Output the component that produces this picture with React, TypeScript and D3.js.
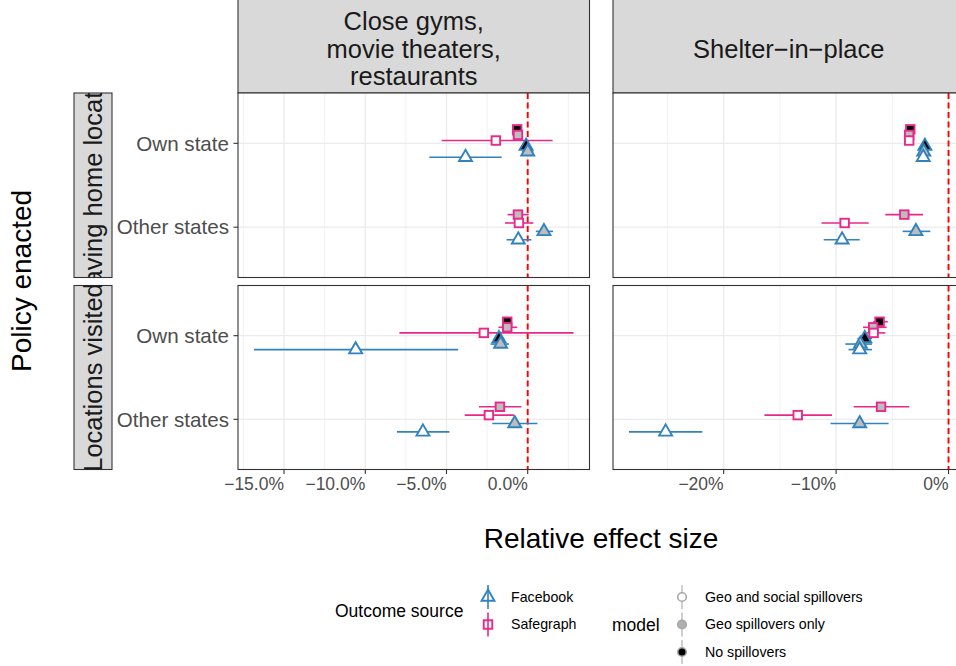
import React from "react";
import * as d3 from "d3";

// ---------- data (values in percent) ----------
const outcomes = ["Leaving home location", "Locations visited"];
const policies = ["Close gyms,\nmovie theaters,\nrestaurants", "Shelter\u2212in\u2212place"];
const categories = ["Own state", "Other states"];
const sources = ["Facebook", "Safegraph"];
const models = ["Geo and social spillovers", "Geo spillovers only", "No spillovers"];

type Row = [string, string, string, number, number, number]; // category, source, model, est, lo, hi

const leavingGyms: Row[] = [
  ["Own state", "Facebook", "No spillovers", -0.1, -0.4, 0.2],
  ["Own state", "Facebook", "Geo spillovers only", 0.0, -0.35, 0.35],
  ["Own state", "Facebook", "Geo and social spillovers", -3.83, -6.06, -1.6],
  ["Own state", "Safegraph", "No spillovers", -0.65, -0.85, -0.45],
  ["Own state", "Safegraph", "Geo spillovers only", -0.6, -0.95, -0.3],
  ["Own state", "Safegraph", "Geo and social spillovers", -1.96, -5.3, 1.53],
  ["Other states", "Facebook", "Geo spillovers only", 1.0, 0.5, 1.56],
  ["Other states", "Facebook", "Geo and social spillovers", -0.58, -1.3, 0.23],
  ["Other states", "Safegraph", "Geo spillovers only", -0.6, -1.24, 0.06],
  ["Other states", "Safegraph", "Geo and social spillovers", -0.54, -1.4, 0.35],
];

const leavingShelter: Row[] = [
  ["Own state", "Facebook", "No spillovers", -2.1, -2.35, -1.85],
  ["Own state", "Facebook", "Geo spillovers only", -2.2, -2.45, -1.95],
  ["Own state", "Facebook", "Geo and social spillovers", -2.25, -2.5, -2.0],
  ["Own state", "Safegraph", "No spillovers", -3.4, -3.65, -3.15],
  ["Own state", "Safegraph", "Geo spillovers only", -3.5, -3.8, -3.2],
  ["Own state", "Safegraph", "Geo and social spillovers", -3.5, -3.75, -3.25],
  ["Other states", "Facebook", "Geo spillovers only", -2.9, -4.08, -1.62],
  ["Other states", "Facebook", "Geo and social spillovers", -9.47, -11.1, -7.9],
  ["Other states", "Safegraph", "Geo spillovers only", -3.93, -5.62, -2.27],
  ["Other states", "Safegraph", "Geo and social spillovers", -9.24, -11.3, -7.1],
];

const visitedGyms: Row[] = [
  ["Own state", "Facebook", "No spillovers", -1.77, -2.1, -1.45],
  ["Own state", "Facebook", "Geo spillovers only", -1.67, -2.29, -1.15],
  ["Own state", "Facebook", "Geo and social spillovers", -10.59, -16.85, -4.28],
  ["Own state", "Safegraph", "No spillovers", -1.26, -1.5, -1.0],
  ["Own state", "Safegraph", "Geo spillovers only", -1.26, -1.8, -0.64],
  ["Own state", "Safegraph", "Geo and social spillovers", -2.7, -7.9, 2.82],
  ["Other states", "Facebook", "Geo spillovers only", -0.8, -2.18, 0.6],
  ["Other states", "Facebook", "Geo and social spillovers", -6.45, -8.05, -4.82],
  ["Other states", "Safegraph", "Geo spillovers only", -1.71, -3.0, -0.39],
  ["Other states", "Safegraph", "Geo and social spillovers", -2.39, -3.88, -0.85],
];

const visitedShelter: Row[] = [
  ["Own state", "Facebook", "No spillovers", -7.45, -8.1, -6.8],
  ["Own state", "Facebook", "Geo spillovers only", -7.84, -9.18, -6.8],
  ["Own state", "Facebook", "Geo and social spillovers", -7.9, -8.9, -6.8],
  ["Own state", "Safegraph", "No spillovers", -6.13, -6.7, -5.4],
  ["Own state", "Safegraph", "Geo spillovers only", -6.7, -7.6, -5.5],
  ["Own state", "Safegraph", "Geo and social spillovers", -6.66, -7.25, -5.62],
  ["Other states", "Facebook", "Geo spillovers only", -7.9, -10.5, -5.33],
  ["Other states", "Facebook", "Geo and social spillovers", -25.16, -28.42, -21.9],
  ["Other states", "Safegraph", "Geo spillovers only", -6.0, -8.44, -3.49],
  ["Other states", "Safegraph", "Geo and social spillovers", -13.41, -16.37, -10.36],
];

const gymTicks = [-15, -10, -5, 0];
const gymTickLabels = ["\u221215.0%", "\u221210.0%", "\u22125.0%", "0.0%"];
const shelterTicks = [-20, -10, 0];
const shelterTickLabels = ["\u221220%", "\u221210%", "0%"];

const panelData: Row[][][] = [
  [leavingGyms, leavingShelter],
  [visitedGyms, visitedShelter],
];

// ---------- styles ----------
const sourceColor: Record<string, string> = { Facebook: "#3182BD", Safegraph: "#E7298A" };
const modelFill: Record<string, string> = {
  "Geo and social spillovers": "#FFFFFF",
  "Geo spillovers only": "#BDBDBD",
  "No spillovers": "#000000",
};
const FONT = "'Liberation Sans', Arial, Helvetica, sans-serif";
const W = 956, H = 666;
const colX: [number, number][] = [[238, 589.5], [613, 964.5]];
const rowY: [number, number][] = [[93, 277.5], [285.5, 469.5]];
const R = 4.8;

function xDomain(col: number): [number, number] {
  const vals: number[] = [0];
  panelData.forEach((row) => row[col].forEach((d) => vals.push(d[4], d[5])));
  const mn = d3.min(vals)!, mx = d3.max(vals)!;
  const e = (mx - mn) * 0.05;
  return [mn - e, mx + e];
}

function minorBreaks(major: number[], dom: [number, number]) {
  const step = major[1] - major[0];
  const ext = [major[0] - step, ...major, major[major.length - 1] + step];
  const out: number[] = [];
  for (let i = 0; i < ext.length - 1; i++) {
    const m = (ext[i] + ext[i + 1]) / 2;
    if (m >= dom[0] && m <= dom[1]) out.push(m);
  }
  return out;
}

function Marker({ source, fill, cx, cy, stroke }: any) {
  if (source === "Facebook") {
    const p = `M${cx},${cy - 1.555 * R}L${cx + 1.347 * R},${cy + 0.778 * R}L${cx - 1.347 * R},${cy + 0.778 * R}Z`;
    return <path d={p} fill={fill} stroke={stroke} strokeWidth={1.9} strokeLinejoin="miter" />;
  }
  const s = 1.772 * R;
  return <rect x={cx - s / 2} y={cy - s / 2} width={s} height={s} fill={fill} stroke={stroke} strokeWidth={1.9} />;
}

export default function App() {
  const xScales = [0, 1].map((c) => d3.scaleLinear().domain(xDomain(c)).range(colX[c]));
  const yScales = [0, 1].map((r) => d3.scaleLinear().domain([0.4, 2.6]).range([rowY[r][1], rowY[r][0]]));
  const catPos: Record<string, number> = { "Own state": 2, "Other states": 1 };
  const ticks = [gymTicks, shelterTicks];
  const tickLabels = [gymTickLabels, shelterTickLabels];

  const panels: any[] = [];
  for (let r = 0; r < 2; r++) {
    for (let c = 0; c < 2; c++) {
      const xs = xScales[c], ys = yScales[r];
      const dom = xs.domain() as [number, number];
      const data = panelData[r][c];
      const placed = data.map((d) => {
        const group = sources.indexOf(d[1]) * 3 + models.indexOf(d[2]);
        return { d, group };
      });
      const pos = placed.map((p) => {
        const inCat = placed.filter((q) => q.d[0] === p.d[0]).map((q) => q.group).sort((a, b) => a - b);
        const n = inCat.length;
        const i = inCat.indexOf(p.group);
        const off = (i - (n - 1) / 2) * (0.4 / n);
        return { ...p, y: ys(catPos[p.d[0]] + off) };
      });
      const [x0, x1] = colX[c];
      const [y0, y1] = rowY[r];
      panels.push(
        <g key={`p${r}${c}`}>
          <rect x={x0} y={y0} width={x1 - x0} height={y1 - y0} fill="#fff" />
          {minorBreaks(ticks[c], dom).map((m) => (
            <line key={`mn${m}`} x1={xs(m)} x2={xs(m)} y1={y0} y2={y1} stroke="#ebebeb" strokeWidth={0.7} />
          ))}
          {ticks[c].map((t) => (
            <line key={`mj${t}`} x1={xs(t)} x2={xs(t)} y1={y0} y2={y1} stroke="#ebebeb" strokeWidth={1.3} />
          ))}
          {categories.map((cat) => (
            <line key={cat} x1={x0} x2={x1} y1={ys(catPos[cat])} y2={ys(catPos[cat])} stroke="#ebebeb" strokeWidth={1.3} />
          ))}
          <line x1={xs(0)} x2={xs(0)} y1={y0} y2={y1} stroke="#FF0000" strokeWidth={1.9} strokeDasharray="6 3.5" />
          {pos.map((p, k) => (
            <line key={`e${k}`} x1={xs(p.d[4])} x2={xs(p.d[5])} y1={p.y} y2={p.y} stroke={sourceColor[p.d[1]]} strokeWidth={1.6} />
          ))}
          {pos.map((p, k) => (
            <Marker key={`m${k}`} source={p.d[1]} fill={modelFill[p.d[2]]} stroke={sourceColor[p.d[1]]} cx={xs(p.d[3])} cy={p.y} />
          ))}
          <rect x={x0} y={y0} width={x1 - x0} height={y1 - y0} fill="none" stroke="#333333" strokeWidth={1.1} />
        </g>
      );
    }
  }

  return (
    <svg width={W} height={H} style={{ position: "absolute", left: 0, top: 0, fontFamily: FONT }}>
      <defs>
        {rowY.map(([a, b], i) => (
          <clipPath id={`rs${i}`} key={i}>
            <rect x={74} y={a} width={38} height={b - a} />
          </clipPath>
        ))}
      </defs>
      <rect width={W} height={H} fill="#fff" />
      {colX.map(([a, b], c) => (
        <g key={`cs${c}`}>
          <rect x={a} y={-1} width={b - a} height={94} fill="#d9d9d9" stroke="#333333" strokeWidth={1.1} />
          {policies[c].split("\n").map((ln, i, arr) => (
            <text key={i} x={(a + b) / 2} y={57.5 + (i - (arr.length - 1) / 2) * 27.5} textAnchor="middle" fontSize={25.5} fill="#1a1a1a">
              {ln}
            </text>
          ))}
        </g>
      ))}
      {rowY.map(([a, b], r) => (
        <g key={`rs${r}`}>
          <rect x={74} y={a} width={38} height={b - a} fill="#d9d9d9" stroke="#333333" strokeWidth={1.1} />
          <g clipPath={`url(#rs${r})`}>
            <text transform={`translate(102,${(a + b) / 2}) rotate(-90)`} textAnchor="middle" fontSize={25.5} fill="#1a1a1a">
              {outcomes[r]}
            </text>
          </g>
        </g>
      ))}
      {panels}
      {rowY.map((_, r) => (
        <g key={`ya${r}`}>
          {categories.map((cat) => {
            const y = yScales[r](catPos[cat]);
            return (
              <g key={cat}>
                <line x1={233.5} x2={238} y1={y} y2={y} stroke="#333333" strokeWidth={1.1} />
                <text x={229} y={y} dy="0.35em" textAnchor="end" fontSize={20.6} fill="#4d4d4d">
                  {cat}
                </text>
              </g>
            );
          })}
        </g>
      ))}
      {[0, 1].map((c) => (
        <g key={`xa${c}`}>
          {ticks[c].map((t, i) => {
            const x = xScales[c](t);
            return (
              <g key={t}>
                <line x1={x} x2={x} y1={469.5} y2={474} stroke="#333333" strokeWidth={1.1} />
                <text x={x} y={490} textAnchor="end" fontSize={17.5} fill="#4d4d4d">
                  {tickLabels[c][i]}
                </text>
              </g>
            );
          })}
        </g>
      ))}
      <text x={601} y={548} textAnchor="middle" fontSize={28} fill="#000">Relative effect size</text>
      <text transform="translate(31,281) rotate(-90)" textAnchor="middle" fontSize={28} fill="#000">Policy enacted</text>
      <text x={335} y={611} dy="0.35em" fontSize={17.5} fill="#000">Outcome source</text>
      {sources.map((s, i) => {
        const cy = 597 + i * 27.5;
        return (
          <g key={s}>
            <line x1={488} x2={488} y1={cy - 12} y2={cy + 12} stroke={sourceColor[s]} strokeWidth={1.6} />
            <Marker source={s} fill="none" stroke={sourceColor[s]} cx={488} cy={cy} />
            <text x={511} y={cy} dy="0.35em" fontSize={14.2} fill="#000">{s}</text>
          </g>
        );
      })}
      <text x={612} y={625} dy="0.35em" fontSize={17.5} fill="#000">model</text>
      {models.map((m, i) => {
        const cy = 597 + i * 27.5;
        return (
          <g key={m}>
            <line x1={682} x2={682} y1={cy - 12} y2={cy + 12} stroke="#c4c4c4" strokeWidth={1.6} />
            <circle cx={682} cy={cy} r={4.3} fill={modelFill[m] === "#BDBDBD" ? "#b0b0b0" : modelFill[m]} stroke="#a8a8a8" strokeWidth={1.6} />
            <text x={705} y={cy} dy="0.35em" fontSize={14.2} fill="#000">{m}</text>
          </g>
        );
      })}
    </svg>
  );
}
